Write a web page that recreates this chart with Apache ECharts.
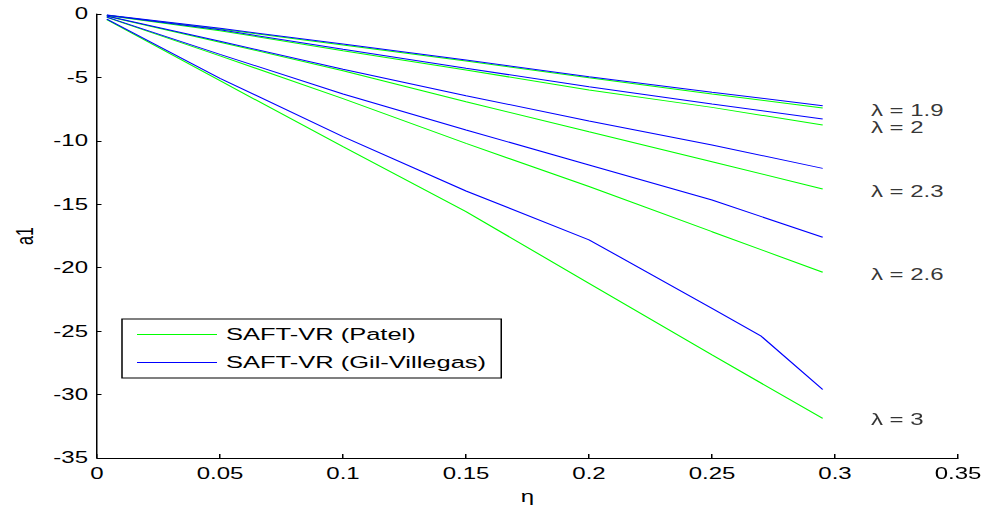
<!DOCTYPE html>
<html>
<head>
<meta charset="utf-8">
<script src="https://cdn.jsdelivr.net/npm/echarts@6/dist/echarts.min.js"></script>
<style>
html,body{margin:0;padding:0;background:#fff;overflow:hidden;}
#wrap{width:988px;height:509px;overflow:hidden;}
#c{width:658.667px;height:509px;transform:scaleX(1.5);transform-origin:0 0;}
</style>
</head>
<body>
<div id="wrap"><div id="c"></div></div>
<script>
// eta values where curves were read
var eta = [0.004, 0.05, 0.1, 0.15, 0.2, 0.25, 0.295];
// SAFT-VR (Patel) - green
var patel19 = [-0.10, -1.18, -2.45, -3.70, -5.02, -6.31, -7.41];
var patel20 = [-0.12, -1.32, -2.89, -4.41, -5.99, -7.36, -8.75];
var patel23 = [-0.18, -2.22, -4.47, -6.91, -9.28, -11.64, -13.80];
var patel26 = [-0.27, -3.30, -6.67, -10.20, -13.60, -17.16, -20.36];
var patel30 = [-0.45, -5.26, -10.46, -15.58, -21.23, -26.88, -31.87];
// SAFT-VR (Gil-Villegas) - blue
var gil19 = [-0.08, -1.13, -2.36, -3.63, -4.94, -6.17, -7.23];
var gil20 = [-0.10, -1.25, -2.78, -4.28, -5.73, -7.09, -8.28];
var gil23 = [-0.16, -2.15, -4.36, -6.44, -8.43, -10.33, -12.17];
var gil26 = [-0.25, -3.18, -6.31, -9.14, -11.90, -14.66, -17.60];
var gil30Eta = [0.004, 0.05, 0.1, 0.15, 0.2, 0.25, 0.27, 0.295];
var gil30 = [-0.40, -5.07, -9.67, -13.95, -17.80, -23.20, -25.40, -29.60];
// lambda annotations (eta, a1, text)
var lambdaLabels = [
  [0.3146, -7.62, 'λ = 1.9'],
  [0.3146, -8.96, 'λ = 2'],
  [0.3146, -14.01, 'λ = 2.3'],
  [0.3146, -20.57, 'λ = 2.6'],
  [0.3146, -32.0, 'λ = 3']
];

var S = 1.5; // horizontal stretch of the reference figure
var FONT = 'Liberation Sans, Arial, Helvetica, sans-serif';
function pairs(xs, ys){ return ys.map(function(v,i){ return [xs[i], v]; }); }
var PATEL = 'SAFT-VR (Patel)', GIL = 'SAFT-VR (Gil-Villegas)';
function mk(name, color, xs, ys){
  return {name: name, type: 'line', data: pairs(xs, ys), symbol: 'none',
    lineStyle: {color: color, width: 1}, itemStyle: {color: color}, silent: true};
}
var series = [
  mk(PATEL, '#00ff00', eta, patel19),
  mk(GIL, '#0000ff', eta, gil19),
  mk(PATEL, '#00ff00', eta, patel20),
  mk(GIL, '#0000ff', eta, gil20),
  mk(PATEL, '#00ff00', eta, patel23),
  mk(GIL, '#0000ff', eta, gil23),
  mk(PATEL, '#00ff00', eta, patel26),
  mk(GIL, '#0000ff', eta, gil26),
  mk(PATEL, '#00ff00', eta, patel30),
  mk(GIL, '#0000ff', gil30Eta, gil30),
  {name: 'labels', type: 'scatter', symbolSize: 0, silent: true,
   data: lambdaLabels.map(function(d){ return {value: [d[0], d[1]], text: d[2]}; }),
   label: {show: true, position: 'right', distance: 0, color: '#000', fontSize: 16, fontFamily: FONT,
     formatter: function(p){ return p.data.text; }}}
];

var chart = echarts.init(document.getElementById('c'), null, {renderer: 'svg', width: 988 / S, height: 509});
var lineIcon = 'path://M0,0L53,0L53,1L0,1Z';
chart.setOption({
  animation: false,
  backgroundColor: '#fff',
  grid: {left: 97 / S, right: 30 / S, top: 14, bottom: 51, containLabel: false, outerBoundsMode: 'none'},
  legend: {
    data: [{name: PATEL, icon: lineIcon}, {name: GIL, icon: lineIcon}],
    orient: 'vertical', left: 122 / S, top: 319,
    itemWidth: 80 / S, itemHeight: 14, itemGap: 11,
    padding: [7, 10, 7, 10], borderColor: '#000', borderWidth: 1,
    textStyle: {fontSize: 17, fontFamily: FONT, color: '#000', padding: [0, 0, 0, 1]},
    selectedMode: false
  },
  xAxis: {
    type: 'value', min: 0, max: 0.35, interval: 0.05,
    name: 'η', nameLocation: 'middle', nameGap: 31,
    nameTextStyle: {fontSize: 16, fontFamily: FONT, color: '#000'},
    axisLine: {onZero: false, lineStyle: {color: '#000', width: 1}},
    axisTick: {inside: true, length: 4, lineStyle: {color: '#000'}},
    axisLabel: {fontSize: 16, fontFamily: FONT, color: '#000', margin: 8,
      formatter: function(v){ return String(+v.toFixed(2)); }},
    splitLine: {show: false}
  },
  yAxis: {
    type: 'value', min: -35, max: 0, interval: 5,
    name: 'a1', nameLocation: 'middle', nameGap: 40, nameRotate: 90,
    nameTextStyle: {fontSize: 16, fontFamily: FONT, color: '#000'},
    axisLine: {show: true, onZero: false, lineStyle: {color: '#000', width: 1}},
    axisTick: {show: true, inside: true, length: 3, lineStyle: {color: '#000'}},
    axisLabel: {fontSize: 16, fontFamily: FONT, color: '#000', margin: 6},
    splitLine: {show: false}
  },
  series: series
});
</script>
</body>
</html>
